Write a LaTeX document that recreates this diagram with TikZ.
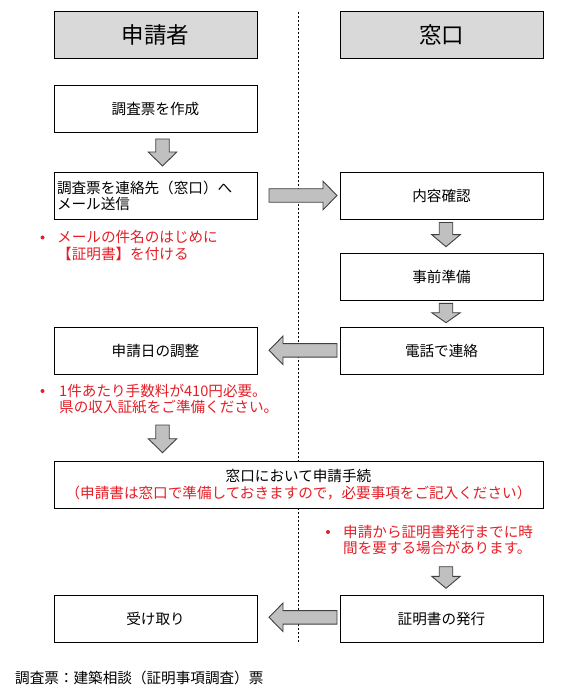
\documentclass[tikz,border=0pt]{standalone}
\usepackage{fontspec}
\setmainfont{Noto Sans CJK JP}
\definecolor{notered}{RGB}{228,30,38}
\definecolor{headgray}{RGB}{217,217,217}
\definecolor{arrowfill}{RGB}{192,192,192}
\definecolor{arrowline}{RGB}{64,64,64}
\newcommand\dnarrow[4]{\draw[blockarrow] (#1-6.75,#2) -- (#1+6.75,#2) -- (#1+6.75,#3-#4) -- (#1+14.25,#3-#4) -- (#1,#3) -- (#1-14.25,#3-#4) -- (#1-6.75,#3-#4) -- cycle;}
\newcommand\rtarrow[3]{\draw[blockarrow] (#1,#3-6.75) -- (#2-14,#3-6.75) -- (#2-14,#3-14.25) -- (#2,#3) -- (#2-14,#3+14.25) -- (#2-14,#3+6.75) -- (#1,#3+6.75) -- cycle;}
\newcommand\ltarrow[3]{\draw[blockarrow] (#2,#3-6.75) -- (#1+14,#3-6.75) -- (#1+14,#3-14.25) -- (#1,#3) -- (#1+14,#3+14.25) -- (#1+14,#3+6.75) -- (#2,#3+6.75) -- cycle;}
\tikzset{
  every node/.style={font=\fontsize{14.6}{16.8}\selectfont},
  box/.style={draw=black, line width=1pt, minimum width=203pt, minimum height=47pt, inner sep=3pt, align=center},
  header/.style={box, fill=headgray, font=\fontsize{22.5}{26}\selectfont},
  blockarrow/.style={fill=arrowfill, draw=arrowline, line width=0.9pt, line join=miter},
  note/.style={text=notered, align=left, inner sep=0pt},
  bulletmark/.style={fill=notered, circle, inner sep=0pt, minimum size=4pt},
  divider/.style={line width=0.6pt, dash pattern=on 2pt off 2pt}
}
\begin{document}
\begin{tikzpicture}[x=1pt, y=-1pt]
\useasboundingbox (0,0) rectangle (580,692);
% divider
\coordinate (dtop) at (298.5,12);
\coordinate (dbot) at (298.5,643);
\draw[divider] (dtop) -- (dbot);
% headers
\node[header] (h1) at (155.5,35) {申請者};
\node[header] (h2) at (441.5,35) {窓口};
% left column
\node[box, fill=white] (b1) at (155.5,108.8) {調査票を作成};
\node[box, fill=white, text width=197pt, align=left] (b2) at (155.5,195.8) {調査票を連絡先（窓口）へ\\メール送信};
\node[box, fill=white] (b3) at (155.5,350.8) {申請日の調整};
\node[box, fill=white, minimum width=489pt] (b4) at (298.5,485) {窓口において申請手続\\\textcolor{notered}{（申請書は窓口で準備しておきますので，必要事項をご記入ください）}};
\node[box, fill=white] (b5) at (155.5,619) {受け取り};
% right column
\node[box, fill=white] (r1) at (441.5,195.8) {内容確認};
\node[box, fill=white] (r2) at (441.5,276.8) {事前準備};
\node[box, fill=white] (r3) at (441.5,350.8) {電話で連絡};
\node[box, fill=white] (r4) at (441.5,619) {証明書の発行};
% notes
\node[bulletmark] (n1b) at (42.5,237.5) {};
\node[note, anchor=west] (n1) at (57,245.5) {メールの件名のはじめに\\【証明書】を付ける};
\node[bulletmark] (n2b) at (42.5,391) {};
\node[note, anchor=west] (n2) at (59,399) {1件あたり手数料が410円必要。\\県の収入証紙をご準備ください。};
\node[bulletmark] (n3b) at (328,532) {};
\node[note, anchor=west] (n3) at (343,540) {申請から証明書発行までに時\\間を要する場合があります。};
% footnote
\node[anchor=west, inner sep=0pt] (fn) at (15,678.3) {調査票：建築相談（証明事項調査）票};
% arrows
\dnarrow{162.5}{139}{166}{14}
\dnarrow{446}{222.5}{246.7}{12}
\dnarrow{446}{303.3}{322.7}{10}
\dnarrow{162.5}{425}{452.7}{14}
\dnarrow{446}{566.7}{588.3}{12}
\rtarrow{269}{337}{195.5}
\ltarrow{269}{337}{350.3}
\ltarrow{269}{337}{617.3}
\end{tikzpicture}
\end{document}
